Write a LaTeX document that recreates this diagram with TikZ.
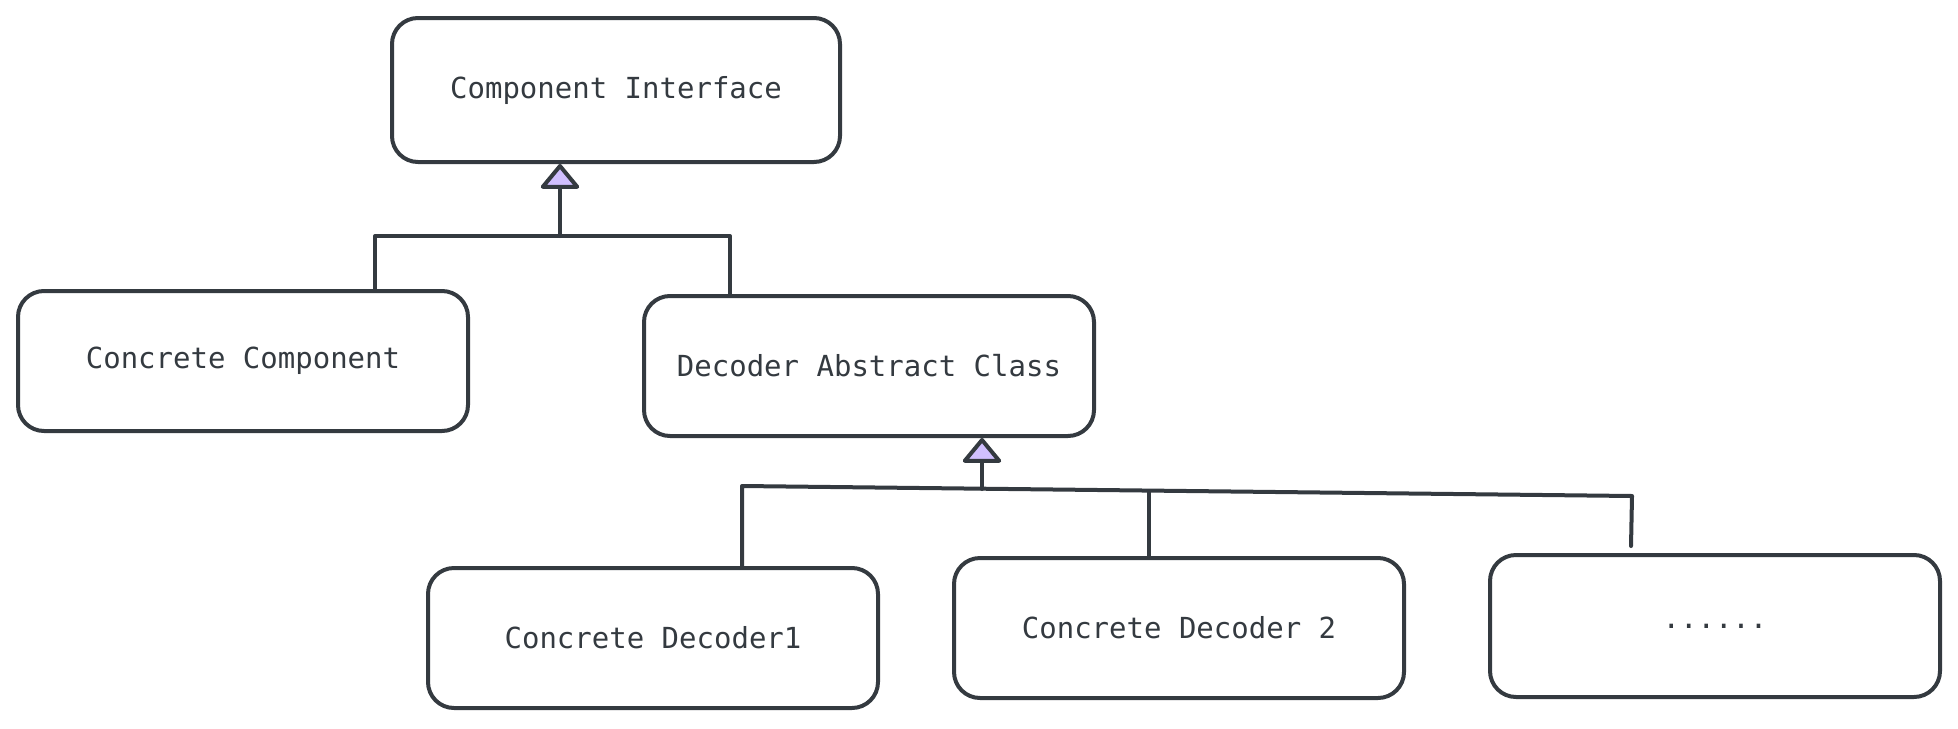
\documentclass[tikz,border=0pt]{standalone}
\usepackage{fontspec}
\setmonofont{DejaVu Sans Mono}
\usetikzlibrary{arrows.meta}
\definecolor{ink}{RGB}{52,58,64}
\definecolor{lav}{RGB}{208,191,255}
\tikzset{
  cls/.style={draw=ink, line width=2pt, rounded corners=13pt, fill=white,
    minimum width=#1, inner sep=0pt, font=\ttfamily\fontsize{14.5}{17}\selectfont, text=ink},
  cls/.default=225pt,
  link/.style={draw=ink, line width=2pt, line join=round, line cap=round},
  inherit/.style={link, -{Triangle[length=13pt,width=21pt,fill=lav,line join=round]}}
}
\begin{document}
\begin{tikzpicture}[x=0.5pt,y=-0.5pt]
\useasboundingbox (0,0) rectangle (1958,728);
% classes
\node[cls=224pt, minimum height=72pt] (ci) at (616,90) {Component Interface};
\node[cls=225pt, minimum height=70pt] (cc) at (243,361) {Concrete Component};
\node[cls=225pt, minimum height=70pt] (da) at (869,366) {Decoder Abstract Class};
\node[cls=225pt, minimum height=70pt] (d1) at (653,638) {Concrete Decoder1};
\node[cls=225pt, minimum height=70pt] (d2) at (1179,628) {Concrete Decoder 2};
\node[cls=225pt, minimum height=71pt] (dm) at (1715,626) {......};
% first level
\coordinate (j1) at (560,236);
\coordinate (l1) at (375,236);
\coordinate (r1) at (730,236);
\draw[inherit] (j1) -- (j1 |- ci.south);
\draw[link] (l1 |- cc.north) -- (l1) -- (r1) -- (r1 |- da.north);
% second level
\coordinate (j2) at (982,489);
\coordinate (l2) at (742,486);
\coordinate (m2) at (1149,491);
\coordinate (r2) at (1632,496);
\coordinate (e2) at (1631,546);
\draw[inherit] (j2) -- (j2 |- da.south);
\draw[link] (l2 |- d1.north) -- (l2) -- (r2) -- (e2);
\draw[link] (m2) -- (m2 |- d2.north);
\end{tikzpicture}
\end{document}
